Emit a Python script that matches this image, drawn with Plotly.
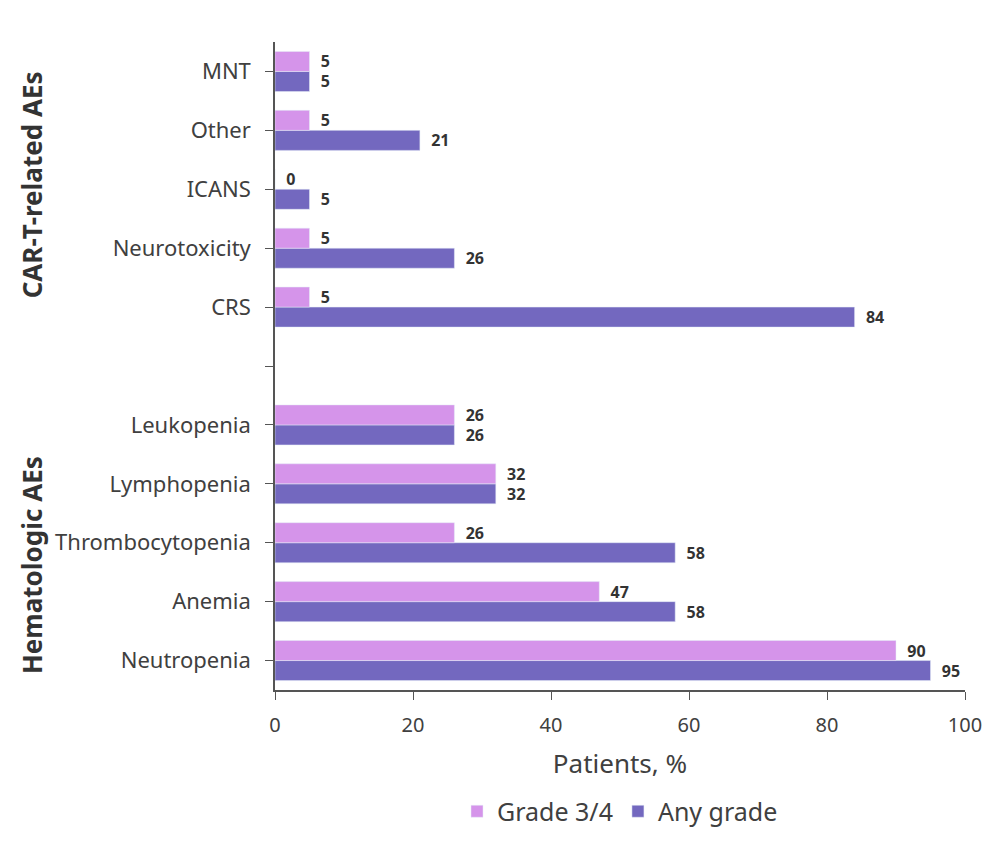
import plotly.graph_objects as go

categories = ["Neutropenia", "Anemia", "Thrombocytopenia", "Lymphopenia", "Leukopenia", " ",
              "CRS", "Neurotoxicity", "ICANS", "Other", "MNT"]
grade34 = [90, 47, 26, 32, 26, None, 5, 5, 0, 5, 5]
any_grade = [95, 58, 58, 32, 26, None, 84, 26, 5, 21, 5]
x_ticks = [0, 20, 40, 60, 80, 100]
group_titles = ["CAR-T-related AEs", "Hematologic AEs"]

FONT = "Noto Sans"
PINK = "#D594EA"
PURPLE = "#7368BF"

fig = go.Figure()
fig.add_trace(go.Bar(
    y=categories, x=any_grade, orientation="h", name="Any grade",
    marker=dict(color=PURPLE), text=[("" if v is None else str(v)) for v in any_grade],
    texttemplate="  %{text}", textposition="outside", cliponaxis=False, constraintext="none",
    textfont=dict(family=FONT, size=16, color="#333333", weight="bold"),
    legendrank=2,
))
fig.add_trace(go.Bar(
    y=categories, x=grade34, orientation="h", name="Grade 3/4",
    marker=dict(color=PINK), text=[("" if v is None else str(v)) for v in grade34],
    texttemplate="  %{text}", textposition="outside", cliponaxis=False, constraintext="none",
    textfont=dict(family=FONT, size=16, color="#333333", weight="bold"),
    legendrank=1,
))

fig.update_layout(
    width=1000, height=843,
    margin=dict(l=267, r=43, t=34, b=161),
    plot_bgcolor="white", paper_bgcolor="white",
    barmode="group", bargap=0.32, bargroupgap=0,
    font=dict(family=FONT, color="#404040"),
    showlegend=True,
    legend=dict(orientation="h", x=0.5, xanchor="center", y=-0.152, yanchor="top",
                font=dict(size=25, color="#404040"), itemwidth=30),
    xaxis=dict(range=[0, 100], tickvals=x_ticks, showgrid=False, zeroline=False,
               showline=True, linecolor="#555555", linewidth=1.5,
               ticks="outside", ticklen=8, tickcolor="#555555", automargin=False,
               tickfont=dict(size=20, color="#404040"), ticklabelstandoff=8,
               title=dict(text="Patients, %", font=dict(size=26, color="#404040"), standoff=18)),
    yaxis=dict(type="category", categoryorder="array", categoryarray=categories,
               showgrid=False, zeroline=False, showline=True, linecolor="#555555", linewidth=1.5,
               ticks="outside", ticklen=8, tickcolor="#555555", automargin=False,
               tickfont=dict(size=22, color="#404040"), ticklabelstandoff=10),
)

fig.add_annotation(text=group_titles[0], xref="paper", yref="paper", x=-0.352, y=0.779,
                   xanchor="center", yanchor="middle",
                   textangle=-90, showarrow=False,
                   font=dict(family=FONT, size=26, color="#333333", weight="bold"))
fig.add_annotation(text=group_titles[1], xref="paper", yref="paper", x=-0.352, y=0.193,
                   xanchor="center", yanchor="middle",
                   textangle=-90, showarrow=False,
                   font=dict(family=FONT, size=26, color="#333333", weight="bold"))

fig.write_html("out.html")
